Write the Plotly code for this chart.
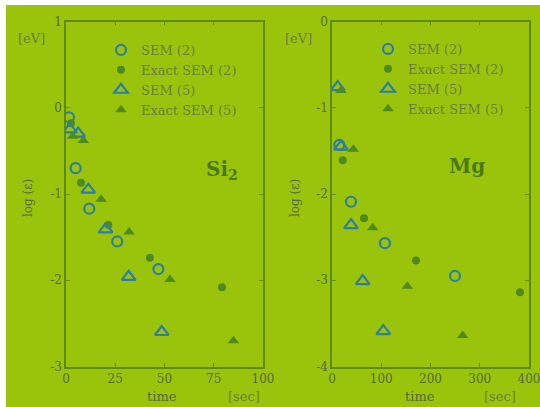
import plotly.graph_objects as go

# ---------------- data ----------------
# Si2 panel (time [sec], log(eps) [eV])
si_sem2_t = [1.5, 4.9, 11.8, 26.0, 46.9]
si_sem2_y = [-0.11, -0.70, -1.17, -1.55, -1.87]
si_ex2_t = [2.5, 7.6, 21.5, 42.6, 79.2]
si_ex2_y = [-0.18, -0.87, -1.36, -1.74, -2.08]
si_sem5_t = [2.0, 6.2, 11.3, 20.1, 31.8, 48.6]
si_sem5_y = [-0.25, -0.30, -0.95, -1.41, -1.96, -2.60]
si_ex5_t = [3.4, 8.8, 17.8, 32.0, 52.8, 85.0]
si_ex5_y = [-0.33, -0.38, -1.06, -1.44, -1.99, -2.70]

# Mg panel
mg_sem2_t = [14.8, 38.6, 107.6, 249.7]
mg_sem2_y = [-1.43, -2.09, -2.57, -2.95]
mg_ex2_t = [21.7, 65.0, 170.6, 381.7]
mg_ex2_y = [-1.61, -2.28, -2.77, -3.14]
mg_sem5_t = [11.5, 18.3, 38.6, 62.3, 104.2]
mg_sem5_y = [-0.76, -1.45, -2.36, -3.01, -3.59]
mg_ex5_t = [18.3, 43.3, 82.6, 152.9, 265.4]
mg_ex5_y = [-0.80, -1.48, -2.39, -3.07, -3.64]

series_names = ["SEM (2)", "Exact SEM (2)", "SEM (5)", "Exact SEM (5)"]
si_ticks_x = [0, 25, 50, 75, 100]
si_ticks_y = [-3, -2, -1, 0, 1]
mg_ticks_x = [0, 100, 200, 300, 400]
mg_ticks_y = [-4, -3, -2, -1, 0]

# ---------------- style ----------------
W, H = 540, 407
BG = "#9AC40C"
AXC = "#5E8D0E"
OPEN = "#2E7EA2"
FILL = "#4F8A1E"
TXT = "#687F3E"
TICK = "#556B3A"
SERIF = "DejaVu Serif, Liberation Serif, serif"

def px(x):
    return x / W

def py(y):
    return 1 - y / H

fig = go.Figure()

def add_panel(xa, ya, leg, data):
    (s2t, s2y), (e2t, e2y), (s5t, s5y), (e5t, e5y) = data
    specs = [
        (s2t, s2y, "circle-open", 10, OPEN, 2.2),
        (e2t, e2y, "circle", 8, FILL, 0),
        (s5t, s5y, "triangle-up-open", 12, OPEN, 2.2),
        (e5t, e5y, "triangle-up", 10, FILL, 0),
    ]
    for name, (t, y, sym, sz, col, lw) in zip(series_names, specs):
        fig.add_trace(go.Scatter(
            x=t, y=y, mode="markers", name=name, xaxis=xa, yaxis=ya, legend=leg,
            marker=dict(symbol=sym, size=sz, color=col,
                        line=dict(width=lw, color=col)),
        ))

add_panel("x", "y", "legend", [(si_sem2_t, si_sem2_y), (si_ex2_t, si_ex2_y),
                                (si_sem5_t, si_sem5_y), (si_ex5_t, si_ex5_y)])
add_panel("x2", "y2", "legend2", [(mg_sem2_t, mg_sem2_y), (mg_ex2_t, mg_ex2_y),
                                   (mg_sem5_t, mg_sem5_y), (mg_ex5_t, mg_ex5_y)])

def axis(domain, rng, tv, anchor):
    return dict(domain=domain, range=rng, tickvals=tv, automargin=False,
                ticklabeloverflow="allow",
                ticktext=[("-" + str(abs(v))) if v < 0 else str(v) for v in tv],
                ticks="inside", ticklen=4, tickwidth=1, tickcolor=AXC,
                showline=True, linecolor=AXC, linewidth=1.5, mirror="allticks",
                showgrid=False, zeroline=False, anchor=anchor,
                tickfont=dict(family=SERIF, size=12, color=TICK))

top, bot = 21.5, 366.5
fig.update_layout(
    width=W, height=H, autosize=False,
    margin=dict(l=0, r=0, t=0, b=0, pad=0, autoexpand=False),
    paper_bgcolor="white", plot_bgcolor="rgba(0,0,0,0)",
    xaxis=axis([px(66), px(263)], [0, 100], si_ticks_x, "y"),
    yaxis=axis([py(bot), py(top)], [-3, 1], si_ticks_y, "x"),
    xaxis2=axis([px(332), px(529)], [0, 400], mg_ticks_x, "y2"),
    yaxis2=axis([py(bot), py(top)], [-4, 0], mg_ticks_y, "x2"),
    legend=dict(x=px(101), y=py(35), xanchor="left", yanchor="top",
                bgcolor="rgba(0,0,0,0)", tracegroupgap=0,
                font=dict(family=SERIF, size=13, color=TXT)),
    legend2=dict(x=px(368), y=py(34), xanchor="left", yanchor="top",
                 bgcolor="rgba(0,0,0,0)", tracegroupgap=0,
                 font=dict(family=SERIF, size=13, color=TXT)),
    shapes=[dict(type="rect", xref="paper", yref="paper", x0=px(6), x1=1,
                 y0=0, y1=py(5), fillcolor=BG, line=dict(width=0), layer="below")],
)

def ann(text, x, y, size=12, color=TXT, angle=0, bold=False):
    fig.add_annotation(text=("<b>%s</b>" % text) if bold else text,
                       x=px(x), y=py(y), xref="paper", yref="paper",
                       xanchor="center", yanchor="middle",
                       showarrow=False, textangle=angle,
                       font=dict(family=SERIF, size=size, color=color))

for off in (0, 267):
    ann("[eV]", 31 + off, 39, size=13)
    ann("log (ε)", 28 + off, 198, size=12, angle=-90, color=TICK)
ann("time", 162, 396, size=13, color=TICK)
ann("[sec]", 244, 396, size=13)
ann("time", 420, 396, size=13, color=TICK)
ann("[sec]", 500, 396, size=13)
ann("Si<sub>2</sub>", 222, 170, size=20, color="#4A7A18", bold=True)
ann("Mg", 467, 166, size=20, color="#4A7A18", bold=True)

fig.write_html(
    "out.html",
    config={"displayModeBar": False, "responsive": False},
    post_script=("var s=document.createElement('style');"
                 "s.textContent='html,body{margin:0;padding:0;overflow:hidden;}';"
                 "document.head.appendChild(s);"),
)
